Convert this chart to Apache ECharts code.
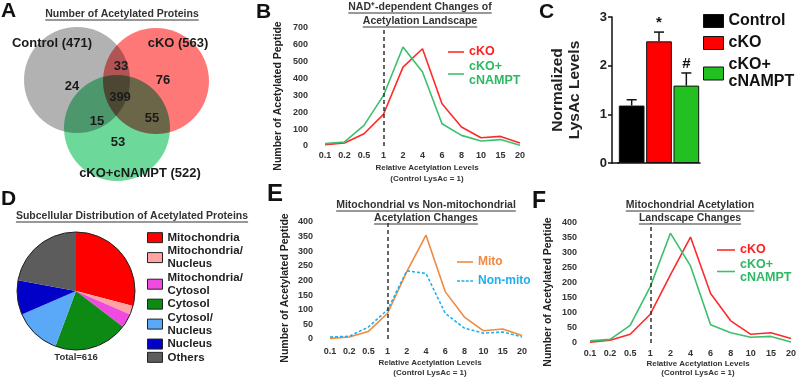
<!DOCTYPE html>
<html><head><meta charset="utf-8">
<script src="https://cdn.jsdelivr.net/npm/echarts@6/dist/echarts.min.js"></script>
<style>html,body{margin:0;padding:0;background:#fff}#c{width:800px;height:381px}</style>
</head><body><div id="c"></div>
<script>
const FONT = "'Liberation Sans', Arial, Helvetica, sans-serif";

// ---------------- Data ----------------
const levels = ['0.1','0.2','0.5','1','2','4','6','8','10','15','20'];
// Panel B: NAD+-dependent changes (all peptides)
const bCKO   = [8, 18, 73, 188, 468, 577, 251, 113, 49, 57, 18];
const bNAMPT = [14, 24, 122, 300, 587, 439, 132, 63, 30, 38, 5];
// Panel E: mitochondrial vs non-mitochondrial
const eMito    = [2, 7, 26, 88, 230, 355, 162, 75, 28, 34, 12];
const eNonMito = [7, 9, 41, 100, 233, 224, 88, 37, 20, 24, 7];
// Panel F: mitochondrial landscape
const fCKO   = [3, 9, 29, 96, 227, 353, 165, 74, 29, 34, 15];
const fNAMPT = [7, 12, 59, 188, 366, 257, 61, 34, 19, 22, 3];
// Panel C: normalized LysAc levels
const cGroups = ['Control', 'cKO', 'cKO+\ncNAMPT'];
const cMeans  = [1.18, 2.50, 1.59];
const cErr    = [0.12, 0.19, 0.26];
const cSig    = ['', '*', '#'];
const cTicks  = [0, 1, 2, 3];
// Panel D: subcellular distribution
const pieNames  = ['Mitochondria', 'Mitochondria/\nNucleus', 'Mitochondria/\nCytosol', 'Cytosol', 'Cytosol/\nNucleus', 'Nucleus', 'Others'];
const pieValues = [179, 15, 24, 125, 79, 58, 136];
const pieTotal  = 616;
// Panel A: Venn counts
const vennSetNames = ['Control', 'cKO', 'cKO+cNAMPT'];
const vennSetSizes = [471, 563, 522];
const vennRegions  = ['Control only', 'Control∩cKO', 'cKO only', 'All', 'Control∩cKO+cNAMPT', 'cKO∩cKO+cNAMPT', 'cKO+cNAMPT only'];
const vennCounts   = [24, 33, 76, 399, 15, 55, 53];

// ---------------- Layout (positions only) ----------------
const vennCircleXY = [[77, 80], [156, 81], [117, 128]];
const vennSetLabelXY = [[52, 43], [178, 43], [140, 173]];
const vennRegionXY = [[72, 86], [121, 66], [163, 80], [120, 97], [97, 121], [152, 118], [118, 142]];
const dashAt = levels.indexOf('1');

const cv = document.createElement('canvas').getContext('2d');
function tw(t, size) { cv.font = 'bold ' + size + 'px ' + FONT; return cv.measureText(t).width; }

const graphics = [];
function txt(t, x, y, size, color, extra) {
  graphics.push(Object.assign({
    type: 'text', x: x, y: y, silent: true,
    style: { text: t, x: 0, y: 0, font: 'bold ' + size + 'px ' + FONT, fill: color,
      textAlign: 'center', textVerticalAlign: 'middle', align: 'center', verticalAlign: 'middle' }
  }, extra || {}));
}
function letter(t, x, y, size) {
  graphics.push({ type: 'text', x: x, y: y, silent: true,
    style: { text: t, x: 0, y: 0, font: 'bold ' + size + 'px ' + FONT, fill: '#111',
      textAlign: 'left', textVerticalAlign: 'middle', align: 'left', verticalAlign: 'middle' } });
}
function title(t, x, y) {
  const size = 10.5, col = '#333';
  txt(t, x, y, size, col);
  const w = tw(t, size);
  graphics.push({ type: 'line', silent: true, shape: { x1: x - w / 2, y1: y + 6, x2: x + w / 2, y2: y + 6 },
    style: { stroke: col, lineWidth: 1 } });
}
function yName(t, x, y, size, lh) {
  graphics.push({ type: 'text', x: x, y: y, rotation: Math.PI / 2, silent: true,
    style: { text: t, x: 0, y: 0, font: 'bold ' + size + 'px ' + FONT, fill: '#222', lineHeight: lh || size * 1.2,
      textAlign: 'center', textVerticalAlign: 'middle', align: 'center', verticalAlign: 'middle' } });
}

letter('A', 1, 11.5, 21); letter('B', 256, 12, 21); letter('C', 539, 12.5, 21);
letter('D', 1, 199.5, 21); letter('E', 267, 194, 24); letter('F', 532, 202, 23);

title('Number of Acetylated Proteins', 122, 14);
title('NAD\u207A-dependent Changes of', 420, 7);
title('Acetylation Landscape', 420, 21);
title('Subcellular Distribution of Acetylated Proteins', 132, 216);
title('Mitochondrial vs Non-mitochondrial', 426, 205);
title('Acetylation Changes', 426, 218);
title('Mitochondrial Acetylation', 690, 205);
title('Landscape Changes', 690, 218);

yName('Number of Acetylated Peptide', 278, 96, 10.5);
yName('Number of Acetylated Peptide', 285, 288, 10.5);
yName('Number of Acetylated Peptide', 548, 292, 10.5);
yName('Normalized\nLysAc Levels', 566, 90, 15.5, 17);

[[427, 168, 179], [430, 363, 373], [698, 364, 373]].forEach(p => {
  txt('Relative Acetylation Levels', p[0], p[1], 8, '#333');
  txt('(Control LysAc = 1)', p[0], p[2], 8, '#333');
});
txt('Total=' + pieTotal, 76, 357, 9.5, '#333');
// short x-axis baseline segment joining the offset y axis in panel C
graphics.push({ type: 'line', silent: true, shape: { x1: 611.5, y1: 163, x2: 619, y2: 163 }, style: { stroke: '#111', lineWidth: 1.5 } });

// ---------------- Helpers ----------------
const tickLabel = { fontFamily: FONT, fontWeight: 'bold', fontSize: 9, color: '#333' };
function catAxis(grid, margin) {
  return { type: 'category', gridIndex: grid, data: levels, boundaryGap: false,
    axisLine: { show: false }, axisTick: { show: false }, splitLine: { show: false },
    axisLabel: Object.assign({ margin: margin, interval: 0 }, tickLabel) };
}
function valAxis(grid, max, interval, margin) {
  return { type: 'value', gridIndex: grid, min: 0, max: max, interval: interval,
    axisLine: { show: false }, axisTick: { show: false }, splitLine: { show: false },
    axisLabel: Object.assign({ margin: margin }, tickLabel) };
}
const dashLine = {
  silent: true, symbol: ['none', 'none'], label: { show: false },
  lineStyle: { color: '#333', type: [4, 3], width: 1.5 }, emphasis: { disabled: true },
  data: [{ xAxis: dashAt }]
};
function lineSeries(name, grid, data, color, dashed, mark) {
  const s = { type: 'line', name: name, xAxisIndex: grid, yAxisIndex: grid, data: data,
    color: color, symbol: 'none', silent: true, z: 3,
    lineStyle: { color: color, width: 1.6, type: dashed ? [3, 2] : 'solid' } };
  if (mark) s.markLine = dashLine;
  return s;
}

const labelMap = {
  B_cKO: 'cKO', B_N: 'cKO+\ncNAMPT', F_cKO: 'cKO', F_N: 'cKO+\ncNAMPT',
  E_M: 'Mito', E_N: 'Non-mito'
};
cGroups.forEach((g, i) => labelMap['C_' + i] = g);
pieNames.forEach(n => labelMap[n] = n);
const fmt = n => labelMap[n] || n;

const RED = '#ff2a2a', GREEN = '#3cbf6e', ORANGE = '#f08a42', CYAN = '#1eb0ee';
const barColors = ['#000000', '#ff0000', '#22c020'];
const pieColors = ['#ff0000', '#ffa3a3', '#f04ae0', '#0d8a14', '#5aa8f8', '#0000c8', '#5c5c5c'];
const vennColors = ['rgb(178,178,178)', 'rgb(255,120,120)', 'rgb(108,216,154)'];
const dashIcon = 'path://M0,0h3v1.6h-3z M4.4,0h3v1.6h-3z M8.8,0h3v1.6h-3z M13.2,0h2.8v1.6h-2.8z';

function lineLegend(names, colors, left, top, w, size, lh, gap, icons) {
  return { orient: 'vertical', left: left, top: top, padding: 0, itemGap: gap,
    itemWidth: w, itemHeight: 1.6, selectedMode: false, formatter: fmt,
    textStyle: { fontFamily: FONT, fontWeight: 'bold', fontSize: size, lineHeight: lh },
    data: names.map((n, i) => ({ name: n, icon: (icons && icons[i]) || 'rect', textStyle: { color: colors[i] } })) };
}

const option = {
  backgroundColor: '#fff',
  animation: false,
  textStyle: { fontFamily: FONT },
  graphic: graphics,
  grid: [
    { left: 0, top: 0, width: 270, height: 190 },
    { left: 325, top: 28, width: 195, height: 118 },
    { left: 618, top: 17, width: 82, height: 146 },
    { left: 330, top: 222, width: 192, height: 117 },
    { left: 590, top: 223, width: 201, height: 120 }
  ],
  xAxis: [
    { type: 'value', gridIndex: 0, min: 0, max: 270, show: false },
    catAxis(1, 5),
    { type: 'category', gridIndex: 2, data: cGroups,
      axisLine: { lineStyle: { color: '#111', width: 1.5 } },
      axisTick: { alignWithLabel: true, length: 4, lineStyle: { color: '#111', width: 1.5 } },
      axisLabel: { show: false }, splitLine: { show: false } },
    catAxis(3, 8),
    catAxis(4, 6)
  ],
  yAxis: [
    { type: 'value', gridIndex: 0, min: 0, max: 190, inverse: true, show: false },
    valAxis(1, 700, 100, 17),
    { type: 'value', gridIndex: 2, min: cTicks[0], max: cTicks[cTicks.length - 1], interval: 1, offset: 6,
      axisLine: { show: true, lineStyle: { color: '#111', width: 1.5 } },
      axisTick: { show: true, length: 4, lineStyle: { color: '#111', width: 1.5 } },
      splitLine: { show: false },
      axisLabel: { margin: 5, fontFamily: FONT, fontWeight: 'bold', fontSize: 13, color: '#222' } },
    valAxis(3, 400, 50, 17),
    valAxis(4, 400, 50, 13)
  ],
  legend: [
    lineLegend(['B_cKO', 'B_N'], ['#ff2020', '#2db865'], 448, 45, 16, 12.5, 14, 1),
    { orient: 'vertical', left: 703, top: 12.5, padding: 0, itemGap: 5, itemWidth: 20, itemHeight: 13,
      icon: 'rect', selectedMode: false, formatter: fmt,
      itemStyle: { borderColor: '#111', borderWidth: 1 },
      textStyle: { fontFamily: FONT, fontWeight: 'bold', fontSize: 16, lineHeight: 17, color: '#111' },
      data: cGroups.map((g, i) => 'C_' + i) },
    { orient: 'vertical', left: 147, top: 231, padding: 0, itemGap: 0, itemWidth: 15, itemHeight: 10,
      icon: 'rect', selectedMode: false, formatter: fmt,
      itemStyle: { borderColor: '#222', borderWidth: 1 },
      textStyle: { fontFamily: FONT, fontWeight: 'bold', fontSize: 11.5, lineHeight: 13.3, color: '#222' },
      data: pieNames },
    lineLegend(['E_M', 'E_N'], [ORANGE, CYAN], 457, 255, 16, 12, 14, 5, [null, dashIcon]),
    lineLegend(['F_cKO', 'F_N'], ['#ff2020', '#2db865'], 717, 243.5, 18, 12.5, 13, 2)
  ],
  series: [
    // Venn circles (multiply blend gives darker overlaps)
    { type: 'scatter', xAxisIndex: 0, yAxisIndex: 0, silent: true, symbolSize: 106, z: 1, blendMode: 'multiply',
      data: vennSetNames.map((n, i) => ({ name: n, value: vennCircleXY[i], itemStyle: { color: vennColors[i], opacity: 1 } })) },
    // Venn set labels
    { type: 'scatter', xAxisIndex: 0, yAxisIndex: 0, silent: true, symbolSize: 1, z: 5,
      itemStyle: { color: 'rgba(0,0,0,0)', opacity: 1 },
      label: { show: true, position: 'inside', formatter: '{b}', fontFamily: FONT, fontWeight: 'bold', fontSize: 13, color: '#1a1a1a' },
      data: vennSetNames.map((n, i) => ({ name: n + ' (' + vennSetSizes[i] + ')', value: vennSetLabelXY[i] })) },
    // Venn region counts
    { type: 'scatter', xAxisIndex: 0, yAxisIndex: 0, silent: true, symbolSize: 1, z: 5,
      itemStyle: { color: 'rgba(0,0,0,0)', opacity: 1 },
      label: { show: true, position: 'inside', formatter: p => String(vennCounts[p.dataIndex]), fontFamily: FONT, fontWeight: 'bold', fontSize: 13, color: '#1a1a1a' },
      data: vennRegions.map((n, i) => ({ name: n, value: vennRegionXY[i] })) },

    // Panel B
    lineSeries('B_cKO', 1, bCKO, RED, false, true),
    lineSeries('B_N', 1, bNAMPT, GREEN, false, false),

    // Panel C bars
    ...cGroups.map((g, i) => ({
      type: 'bar', name: 'C_' + i, xAxisIndex: 2, yAxisIndex: 2, silent: true,
      barGap: '-100%', barCategoryGap: '6%',
      itemStyle: { color: barColors[i], borderColor: '#111', borderWidth: 1 },
      data: cMeans.map((v, j) => j === i ? v : '-')
    })),
    { type: 'custom', xAxisIndex: 2, yAxisIndex: 2, silent: true, z: 4,
      data: cMeans.map((m, i) => [i, m, cErr[i]]),
      encode: { x: 0, y: 1 },
      renderItem: function (params, api) {
        const i = api.value(0), m = api.value(1), e = api.value(2);
        const b = api.coord([i, m]), t = api.coord([i, m + e]);
        const ch = [
          { type: 'line', shape: { x1: b[0], y1: b[1], x2: t[0], y2: t[1] }, style: { stroke: '#111', lineWidth: 1.5 } },
          { type: 'line', shape: { x1: t[0] - 5, y1: t[1], x2: t[0] + 5, y2: t[1] }, style: { stroke: '#111', lineWidth: 1.5 } }
        ];
        const s = cSig[params.dataIndex];
        if (s) ch.push({ type: 'text', style: { text: s, x: t[0], y: t[1] - 9, font: 'bold 15px ' + FONT, fill: '#111',
          textAlign: 'center', textVerticalAlign: 'middle', align: 'center', verticalAlign: 'middle' } });
        return { type: 'group', children: ch };
      } },

    // Panel D
    { type: 'pie', center: [76, 291], radius: 59, startAngle: 90, clockwise: true, silent: true,
      label: { show: false }, labelLine: { show: false }, itemStyle: { borderWidth: 0 },
      data: pieNames.map((n, i) => ({ name: n, value: pieValues[i], itemStyle: { color: pieColors[i] } })) },
    { type: 'pie', center: [76, 291], radius: 59, silent: true, z: 3,
      label: { show: false }, labelLine: { show: false },
      itemStyle: { color: 'rgba(0,0,0,0)', borderColor: '#222', borderWidth: 1 },
      data: [{ name: '__outline', value: pieTotal }] },

    // Panel E
    lineSeries('E_M', 3, eMito, ORANGE, false, true),
    lineSeries('E_N', 3, eNonMito, CYAN, true, false),

    // Panel F
    lineSeries('F_cKO', 4, fCKO, RED, false, true),
    lineSeries('F_N', 4, fNAMPT, GREEN, false, false)
  ]
};

const chart = echarts.init(document.getElementById('c'), null, { renderer: 'canvas' });
chart.setOption(option);
</script>
</body></html>
